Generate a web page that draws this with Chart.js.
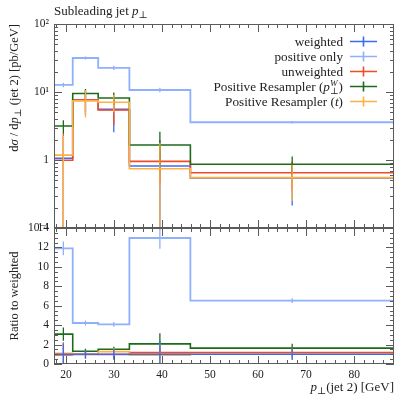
<!DOCTYPE html>
<html>
<head>
<meta charset="utf-8">
<script src="https://cdn.jsdelivr.net/npm/chart.js@4.4.0/dist/chart.umd.min.js"></script>
<style>
  html, body { margin: 0; padding: 0; background: #fff; }
  #wrap { position: relative; width: 407px; height: 398px; }
  canvas { position: absolute; left: 0; top: 0; }
</style>
</head>
<body>
<div id="wrap">
  <canvas id="mainPlot" width="407" height="398"></canvas>
  <canvas id="ratioPlot" width="407" height="398"></canvas>
</div>
<script>
// bins of the subleading jet pT histogram
const binEdges = [17.5, 21.4, 26.7, 33.2, 45.9, 88.3];
const binCenters = [19.45, 24.05, 29.95, 39.55, 67.1];

// main panel, pb/GeV
const weighted = [1.06, 7.6, 5.56, 0.816, 0.545];
const weightedErr = [1.15, 3.0, 3.0, 1.15, 0.33];
const positiveOnly = [12.7, 31.6, 22.7, 10.7, 3.59];
const positiveOnlyErr = [1.0, 1.6, 1.6, 0.8, 0.15];
const unweighted = [0.99, 7.6, 5.43, 0.956, 0.65];
const unweightedErr = [1.5, 2.5, 2.2, 0.5, 0.3];
const resamplerPt = [3.16, 9.5, 8.15, 1.66, 0.864];
const resamplerPtErr = [0.68, 1.6, 1.7, 0.95, 0.26];
const resamplerT = [1.18, 7.4, 7.05, 0.745, 0.55];
const resamplerTErr = [1.1, 3.2, 2.0, 1.03, 0.3];

// ratio panel
const ratioWeighted = [1, 1, 1, 1, 1];
const ratioWeightedErr = [1.1, 0.45, 0.55, 1.4, 0.6];
const ratioPositiveOnly = [11.9, 4.22, 4.08, 12.97, 6.53];
const ratioPositiveOnlyErr = [0.7, 0.25, 0.25, 1.1, 0.25];
const ratioUnweighted = [0.93, 1.0, 0.98, 1.17, 1.19];
const ratioUnweightedErr = [1.3, 0.33, 0.4, 0.6, 0.5];
const ratioResamplerPt = [3.08, 1.31, 1.52, 2.07, 1.63];
const ratioResamplerPtErr = [0.68, 0.25, 0.25, 1.1, 0.45];
const ratioResamplerT = [1.1, 0.97, 1.27, 0.91, 1.0];
const ratioResamplerTErr = [1.0, 0.4, 0.35, 1.2, 0.5];

// ticks
const xTicks = [20, 30, 40, 50, 60, 70, 80];
const xTickLabels = ['20', '30', '40', '50', '60', '70', '80'];
const yMainTicks = [0.1, 1, 10, 100];
const yMainTickLabels = ['10⁻¹', '1', '10¹', '10²'];
const yRatioTicks = [0, 2, 4, 6, 8, 10, 12, 14];
const yRatioTickLabels = ['0', '2', '4', '6', '8', '10', '12', '14'];

const colWeighted = '#3a6cf0';
const colPositive = '#8fb0ff';
const colUnweighted = '#f04a26';
const colResPt = '#1c6b1c';
const colResT = '#ffb040';

const serif = '"Liberation Serif", "DejaVu Serif", serif';

const xMinor = [];
for (let v = 18; v <= 88; v += 2) if (v % 10 !== 0) xMinor.push(v);
const yMainMinor = [];
[0.1, 1, 10].forEach(d => { for (let k = 2; k <= 9; k++) yMainMinor.push(k * d); });
const yRatioMinor = [];
for (let v = 0.5; v < 14; v += 0.5) if (v % 2 !== 0) yRatioMinor.push(v);

function histData(vals) {
  return binEdges.map((e, i) => ({ x: e, y: vals[Math.min(i, vals.length - 1)] }));
}
function errData(vals, errs, floor) {
  const pts = [];
  binCenters.forEach((c, i) => {
    pts.push({ x: c, y: Math.max(vals[i] - errs[i], floor) }, { x: c, y: vals[i] + errs[i] }, { x: c, y: null });
  });
  return pts;
}
function series(vals, errs, color, floor, width) {
  return [
    { data: errData(vals, errs, floor), borderColor: color, borderWidth: 1.3, pointRadius: 0, spanGaps: false, fill: false },
    { data: histData(vals), borderColor: color, borderWidth: width || 1.6, pointRadius: 0, stepped: true, fill: false }
  ];
}

// rich text: small helper for italic p, subscript ⊥ etc.
function fontFor(p, base) {
  return (p.it ? 'italic ' : '') + (base * (p.sc || 1)).toFixed(1) + 'px ' + serif;
}
function drawRich(ctx, parts, x, y, base, align) {
  let cx = 0, prevStart = 0, prevW = 0;
  const items = [];
  parts.forEach(p => {
    ctx.font = fontFor(p, base);
    const w = ctx.measureText(p.t).width;
    if (p.over) {
      items.push({ p, x: prevStart });
      prevW = Math.max(prevW, w);
      cx = prevStart + prevW;
    } else {
      items.push({ p, x: cx });
      prevStart = cx; prevW = w; cx += w;
    }
  });
  const x0 = align === 'right' ? x - cx : align === 'center' ? x - cx / 2 : x;
  ctx.textAlign = 'left';
  ctx.textBaseline = 'alphabetic';
  items.forEach(it => {
    ctx.font = fontFor(it.p, base);
    ctx.fillText(it.p.t, x0 + it.x, y + (it.p.dy || 0));
  });
}

const frameTicks = {
  id: 'frameTicks',
  afterDatasetsDraw(chart, args, opts) {
    const { ctx, chartArea: a } = chart;
    const xs = chart.scales.x, ys = chart.scales.y;
    ctx.save();
    ctx.strokeStyle = '#5a5a5a';
    ctx.lineWidth = 1;
    ctx.strokeRect(a.left + 0.5, a.top + 0.5, a.right - a.left - 1, a.bottom - a.top - 1);
    ctx.beginPath();
    const xt = (vals, len) => vals.forEach(v => {
      const px = Math.round(xs.getPixelForValue(v)) + 0.5;
      if (px < a.left || px > a.right) return;
      ctx.moveTo(px, a.top); ctx.lineTo(px, a.top + len);
      ctx.moveTo(px, a.bottom); ctx.lineTo(px, a.bottom - len);
    });
    const yt = (vals, len) => vals.forEach(v => {
      const py = Math.round(ys.getPixelForValue(v)) + 0.5;
      if (py < a.top - 1 || py > a.bottom + 1) return;
      ctx.moveTo(a.left, py); ctx.lineTo(a.left + len, py);
      ctx.moveTo(a.right, py); ctx.lineTo(a.right - len, py);
    });
    xt(xTicks, 8); xt(xMinor, 4);
    yt(opts.yMajor, 8); yt(opts.yMinor, 4);
    ctx.stroke();
    ctx.restore();
  }
};

const mainText = {
  id: 'mainText',
  afterDraw(chart) {
    const ctx = chart.ctx;
    ctx.save();
    ctx.fillStyle = '#222';
    drawRich(ctx, [{ t: 'Subleading jet ' }, { t: 'p', it: 1 }, { t: '⊥', sc: 0.75, dy: 3 }], 54, 15, 13, 'left');
    // y title, top aligned
    ctx.save();
    ctx.translate(18, 24);
    ctx.rotate(-Math.PI / 2);
    drawRich(ctx, [{ t: 'd' }, { t: 'σ', it: 1 }, { t: ' / d' }, { t: 'p', it: 1 }, { t: '⊥', sc: 0.75, dy: 3 }, { t: ' (jet 2) [pb/GeV]' }], 0, 0, 12.5, 'right');
    ctx.restore();
    // legend
    const entries = [
      { c: colWeighted, parts: [{ t: 'weighted' }] },
      { c: colPositive, parts: [{ t: 'positive only' }] },
      { c: colUnweighted, parts: [{ t: 'unweighted' }] },
      { c: colResPt, parts: [{ t: 'Positive Resampler (' }, { t: 'p', it: 1 }, { t: '⊥', sc: 0.7, dy: 3 }, { t: 'W', it: 1, sc: 0.7, dy: -5, over: 1 }, { t: ')' }] },
      { c: colResT, parts: [{ t: 'Positive Resampler (' }, { t: 't', it: 1 }, { t: ')' }] }
    ];
    entries.forEach((e, i) => {
      const y = 41.5 + i * 15;
      ctx.fillStyle = '#222';
      drawRich(ctx, e.parts, 343, y + 4, 13.2, 'right');
      ctx.strokeStyle = e.c;
      ctx.lineWidth = 1.6;
      ctx.beginPath();
      ctx.moveTo(350, y); ctx.lineTo(377, y);
      ctx.moveTo(363.5, y - 5); ctx.lineTo(363.5, y + 5);
      ctx.stroke();
    });
    ctx.restore();
  }
};

const ratioText = {
  id: 'ratioText',
  afterDraw(chart) {
    const ctx = chart.ctx;
    ctx.save();
    ctx.fillStyle = '#222';
    ctx.save();
    ctx.translate(18, 296);
    ctx.rotate(-Math.PI / 2);
    drawRich(ctx, [{ t: 'Ratio to weighted' }], 0, 0, 12.5, 'center');
    ctx.restore();
    drawRich(ctx, [{ t: 'p', it: 1 }, { t: '⊥', sc: 0.75, dy: 3 }, { t: '(jet 2) [GeV]' }], 394, 391, 13, 'right');
    ctx.restore();
  }
};

function majorTicks(values) {
  return scale => { scale.ticks = values.map(v => ({ value: v, major: true })); };
}

const tickFont = { family: serif, size: 11.5 };

new Chart(document.getElementById('mainPlot'), {
  type: 'line',
  data: {
    datasets: [
      ...series(resamplerT, resamplerTErr, colResT, 1e-3),
      ...series(resamplerPt, resamplerPtErr, colResPt, 1e-3),
      ...series(unweighted, unweightedErr, colUnweighted, 1e-3),
      ...series(positiveOnly, positiveOnlyErr, colPositive, 1e-3, 1.8),
      ...series(weighted, weightedErr, colWeighted, 1e-3)
    ]
  },
  options: {
    responsive: false,
    animation: false,
    devicePixelRatio: 1,
    events: [],
    layout: { padding: { left: 0, right: 13, top: 24, bottom: 170 } },
    plugins: { legend: { display: false }, tooltip: { enabled: false }, frameTicks: { yMajor: yMainTicks, yMinor: yMainMinor } },
    scales: {
      x: { type: 'linear', min: 17.5, max: 88.3, display: false },
      y: {
        type: 'logarithmic', min: 0.1, max: 100,
        grid: { display: false, drawTicks: false },
        border: { display: false },
        afterBuildTicks: majorTicks(yMainTicks),
        afterFit: s => { s.width = 54; },
        ticks: {
          autoSkip: false, padding: 5, color: '#222', font: tickFont,
          callback: v => { const i = yMainTicks.indexOf(v); return i >= 0 ? yMainTickLabels[i] : ''; }
        }
      }
    }
  },
  plugins: [frameTicks, mainText]
});

new Chart(document.getElementById('ratioPlot'), {
  type: 'line',
  data: {
    datasets: [
      ...series(ratioWeighted, ratioWeightedErr, colWeighted, -1),
      ...series(ratioResamplerT, ratioResamplerTErr, colResT, -1),
      ...series(ratioUnweighted, ratioUnweightedErr, colUnweighted, -1),
      ...series(ratioResamplerPt, ratioResamplerPtErr, colResPt, -1),
      ...series(ratioPositiveOnly, ratioPositiveOnlyErr, colPositive, -1, 1.8)
    ]
  },
  options: {
    responsive: false,
    animation: false,
    devicePixelRatio: 1,
    events: [],
    layout: { padding: { left: 0, right: 13, top: 228, bottom: 0 } },
    plugins: { legend: { display: false }, tooltip: { enabled: false }, frameTicks: { yMajor: yRatioTicks, yMinor: yRatioMinor } },
    scales: {
      x: {
        type: 'linear', min: 17.5, max: 88.3,
        grid: { display: false, drawTicks: false },
        border: { display: false },
        afterBuildTicks: majorTicks(xTicks),
        afterFit: s => { s.height = 34; },
        ticks: {
          autoSkip: false, padding: 4, color: '#222', font: tickFont, maxRotation: 0,
          callback: v => { const i = xTicks.indexOf(v); return i >= 0 ? xTickLabels[i] : ''; }
        }
      },
      y: {
        type: 'linear', min: 0, max: 14,
        grid: { display: false, drawTicks: false },
        border: { display: false },
        afterBuildTicks: majorTicks(yRatioTicks),
        afterFit: s => { s.width = 54; },
        ticks: {
          autoSkip: false, padding: 5, color: '#222', font: tickFont,
          callback: v => { const i = yRatioTicks.indexOf(v); return i >= 0 ? yRatioTickLabels[i] : ''; }
        }
      }
    }
  },
  plugins: [frameTicks, ratioText]
});
</script>
</body>
</html>
